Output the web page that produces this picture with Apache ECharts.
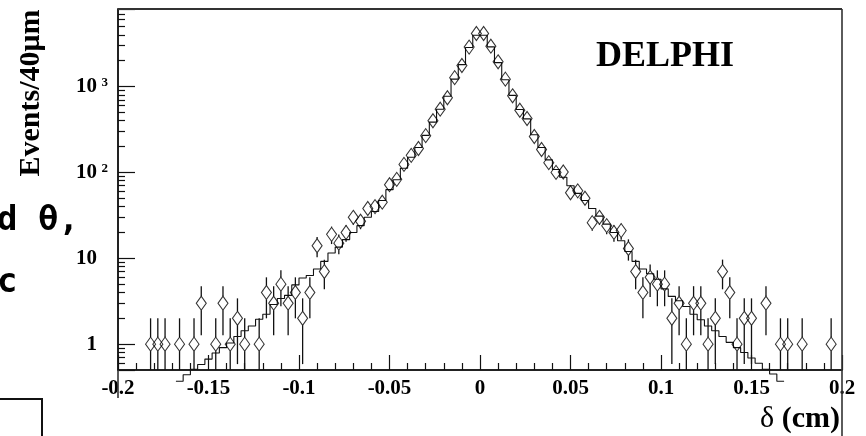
<!DOCTYPE html>
<html>
<head>
<meta charset="utf-8">
<script src="https://cdn.jsdelivr.net/npm/echarts@6/dist/echarts.min.js"></script>
<style>
  html, body { margin: 0; padding: 0; background: #fff; }
  #chart { width: 866px; height: 436px; }
</style>
</head>
<body>
<div id="chart"></div>
<script>
// Impact parameter residual δ: data (open diamonds, Poisson errors) against simulation (histogram)
const BIN_WIDTH = 0.004; // 40 μm bins

// Data: bin centres (cm) and events per bin
const dataDelta = [
  -0.182, -0.178, -0.174, -0.166, -0.158, -0.154, -0.146, -0.142, -0.138, -0.134,
  -0.130, -0.122, -0.118, -0.114, -0.110, -0.106, -0.102, -0.098, -0.094, -0.090,
  -0.086, -0.082, -0.078, -0.074, -0.070, -0.066, -0.062, -0.058, -0.054, -0.050,
  -0.046, -0.042, -0.038, -0.034, -0.030, -0.026, -0.022, -0.018, -0.014, -0.010,
  -0.006, -0.002, 0.002, 0.006, 0.010, 0.014, 0.018, 0.022, 0.026, 0.030,
  0.034, 0.038, 0.042, 0.046, 0.050, 0.054, 0.058, 0.062, 0.066, 0.070,
  0.074, 0.078, 0.082, 0.086, 0.090, 0.094, 0.098, 0.102, 0.106, 0.110,
  0.114, 0.118, 0.122, 0.126, 0.130, 0.134, 0.138, 0.142, 0.146, 0.150,
  0.158, 0.166, 0.170, 0.178, 0.194
];
const dataCounts = [
  1, 1, 1, 1, 1, 3, 1, 3, 1, 2,
  1, 1, 4, 3, 5, 3, 4, 2, 4, 14,
  7, 19, 15, 20, 30, 27, 38, 40, 45, 72,
  83, 124, 158, 190, 268, 400, 545, 740, 1270, 1760,
  2880, 4150, 4150, 2950, 1940, 1220, 780, 530, 425, 262,
  185, 130, 100, 101, 58, 61, 50, 26, 30, 24,
  20, 21, 13, 7, 4, 6, 5, 5, 2, 3,
  1, 3, 3, 1, 2, 7, 4, 1, 2, 2,
  3, 1, 1, 1, 1
];

// Simulation: low edge of the first filled bin and contents of consecutive bins
const mcFirstEdge = -0.168;
const mcCounts = [
  0.37, 0.44, 0.51, 0.58, 0.67, 0.79, 0.91, 1.03, 1.23, 1.43,
  1.63, 1.95, 2.23, 2.9, 3.4, 3.7, 4.9, 5.9, 6.3, 7.5,
  9.2, 11.5, 13.5, 16.5, 20, 24, 30, 35, 47, 63,
  82, 112, 150, 195, 270, 385, 545, 770, 1220, 1800,
  2850, 3950, 3950, 2900, 1900, 1200, 790, 540, 420, 275,
  195, 140, 108, 88, 70, 57, 47, 38, 31, 25,
  20, 16, 12, 9.2, 7.5, 6.6, 5.7, 4.4, 3.6, 3.2,
  2.75, 2.23, 1.92, 1.63, 1.43, 1.23, 1.05, 0.91, 0.8, 0.69,
  0.6, 0.51, 0.45, 0.37
];

const xTickLabels = ['-0.2', '-0.15', '-0.1', '-0.05', '0', '0.05', '0.1', '0.15', '0.2'];
const X_MIN = -0.2, X_MAX = 0.2, X_STEP = 0.05;
const Y_MIN = 0.5, Y_MAX = 8000;

const SERIF = '"Liberation Serif", "Times New Roman", serif';
const MONO = '"DejaVu Sans Mono", "Liberation Mono", monospace';

// step outline: one point per low edge, plus the closing high edge
const mcLine = mcCounts.map((c, j) => [+(mcFirstEdge + j * BIN_WIDTH).toFixed(4), c]);
mcLine.push([+(mcFirstEdge + mcCounts.length * BIN_WIDTH).toFixed(4), mcCounts[mcCounts.length - 1]]);

const points = dataDelta.map((d, i) => [d, dataCounts[i]]);

const MARKER_W = 10, MARKER_H = 14;

const chart = echarts.init(document.getElementById('chart'), null, { renderer: 'canvas' });

chart.setOption({
  animation: false,
  backgroundColor: '#fff',
  grid: { left: 118, right: 24, top: 9, bottom: 66, show: false },
  xAxis: {
    type: 'value', min: X_MIN, max: X_MAX, interval: X_STEP,
    axisLine: { show: true, onZero: false, lineStyle: { color: '#222', width: 2 } },
    axisTick: { show: true, inside: true, length: 15, lineStyle: { color: '#111', width: 1.2 } },
    minorTick: { show: true, splitNumber: 5, length: 7, lineStyle: { color: '#111', width: 1.2 } },
    splitLine: { show: false },
    axisLabel: {
      margin: 8,
      color: '#000',
      fontFamily: SERIF, fontWeight: 'bold', fontSize: 21,
      formatter: v => xTickLabels[Math.round((v - X_MIN) / X_STEP)] || ''
    }
  },
  yAxis: {
    type: 'log', logBase: 10, min: Y_MIN, max: Y_MAX,
    axisLine: { show: true, onZero: false, lineStyle: { color: '#222', width: 2 } },
    axisTick: { show: true, inside: true, length: 17, lineStyle: { color: '#111', width: 1.2 } },
    minorTick: { show: true, splitNumber: 9, length: 7, lineStyle: { color: '#111', width: 1.2 } },
    splitLine: { show: false },
    minorSplitLine: { show: false },
    axisLabel: {
      margin: 10,
      color: '#000',
      formatter: v => {
        const e = Math.round(Math.log10(v));
        if (Math.abs(v - Math.pow(10, e)) > 1e-6 * v) return '';
        if (e === 0) return '{b|1}{e| }';
        if (e === 1) return '{b|10}{e| }';
        return '{b|10}{s|' + e + '}';
      },
      rich: {
        b: { fontFamily: SERIF, fontWeight: 'bold', fontSize: 21, lineHeight: 21, color: '#000' },
        s: { fontFamily: SERIF, fontWeight: 'bold', fontSize: 13, lineHeight: 11, width: 11, align: 'right', verticalAlign: 'top', color: '#000' },
        e: { fontSize: 13, width: 11 }
      }
    }
  },
  series: [
    {
      name: 'Simulation',
      type: 'line',
      data: mcLine,
      step: 'end',
      symbol: 'none',
      clip: false,
      lineStyle: { color: '#111', width: 1.1 },
      z: 2
    },
    {
      name: 'Errors',
      type: 'custom',
      data: points,
      clip: false,
      z: 3,
      renderItem: (params, api) => {
        const x = api.value(0), n = api.value(1);
        const err = Math.sqrt(n);
        const c = api.coord([x, n]);
        const hi = api.coord([x, n + err]);
        const lo = api.coord([x, Math.max(n - err, Y_MIN)]);
        const half = MARKER_H / 2;
        const kids = [];
        const st = { stroke: '#111', lineWidth: 1.3 };
        if (hi[1] < c[1] - half) kids.push({ type: 'line', shape: { x1: c[0], y1: hi[1], x2: c[0], y2: c[1] - half }, style: st });
        if (lo[1] > c[1] + half) kids.push({ type: 'line', shape: { x1: c[0], y1: c[1] + half, x2: c[0], y2: lo[1] }, style: st });
        return { type: 'group', children: kids };
      }
    },
    {
      name: 'Data',
      type: 'scatter',
      data: points,
      symbol: 'diamond',
      symbolSize: [MARKER_W, MARKER_H],
      itemStyle: { color: 'rgba(0,0,0,0)', borderColor: '#000', borderWidth: 1.1 },
      z: 4
    }
  ],
  graphic: [
    // frame: top and right sides, left side running past the axis
    { type: 'line', shape: { x1: 118, y1: 9, x2: 842, y2: 9 }, style: { stroke: '#333', lineWidth: 2 }, z: 10 },
    { type: 'line', shape: { x1: 842, y1: 9, x2: 842, y2: 436 }, style: { stroke: '#333', lineWidth: 1.6 }, z: 10 },
    { type: 'line', shape: { x1: 118, y1: 370, x2: 118, y2: 398 }, style: { stroke: '#333', lineWidth: 1.6 }, z: 10 },
    {
      type: 'text', x: 31, y: 93, rotation: Math.PI / 2,
      style: { text: 'Events/40μm', fontFamily: SERIF, fontWeight: 'bold', fontSize: 30, fill: '#000', textAlign: 'center', textVerticalAlign: 'middle' }
    },
    {
      type: 'text', x: 665, y: 57,
      style: { text: 'DELPHI', fontFamily: SERIF, fontWeight: 'bold', fontSize: 36, fill: '#000', textAlign: 'center', textVerticalAlign: 'middle' }
    },
    {
      type: 'text', x: 840, y: 419,
      style: {
        text: '{d|δ} {u|(cm)}', textAlign: 'right', textVerticalAlign: 'middle',
        rich: {
          d: { fontFamily: SERIF, fontSize: 30, fill: '#000' },
          u: { fontFamily: SERIF, fontWeight: 'bold', fontSize: 30, fill: '#000' }
        },
        fontFamily: SERIF, fontSize: 30
      }
    },
    // surrounding page text and box
    {
      type: 'text', x: -3, y: 204,
      style: { text: 'd θ,', fontFamily: MONO, fontWeight: 'bold', fontSize: 34, fill: '#000', textAlign: 'left', textVerticalAlign: 'top' }
    },
    {
      type: 'text', x: -3, y: 266,
      style: { text: 'c', fontFamily: MONO, fontWeight: 'bold', fontSize: 34, fill: '#000', textAlign: 'left', textVerticalAlign: 'top' }
    },
    { type: 'polyline', shape: { points: [[0, 399], [42, 399], [42, 436]] }, style: { stroke: '#111', lineWidth: 2, fill: 'none' } }
  ]
});
</script>
</body>
</html>
